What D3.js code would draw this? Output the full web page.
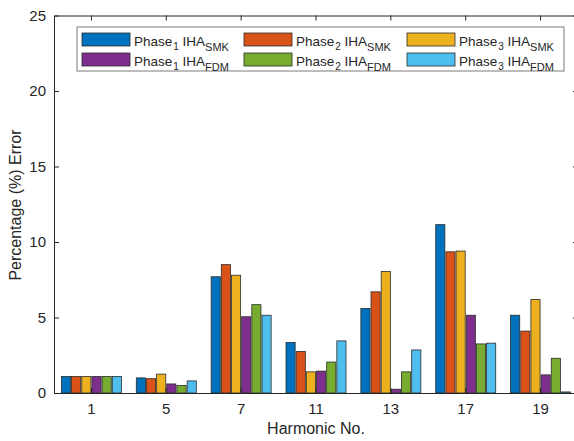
<!DOCTYPE html>
<html lang="en">
  <head>
    <meta charset="UTF-8" />
    <title>Percentage Error</title>
    <style>
        body { margin: 0; background: #fff; }
        svg text { font-family: "Liberation Sans", Arial, sans-serif; fill: #262626; }
        .axis line, .axis path { stroke: #262626; }
    </style>
    <script src="https://d3js.org/d3.v7.min.js"></script>
  </head>
  <body>
    <div id="chart"></div>
    <script>
        // harmonic orders on the x axis
        const harmonics = ["1", "5", "7", "11", "13", "17", "19"];
        // percentage error
        const phase1SMK = [1.1, 1.0, 7.7, 3.35, 5.6, 11.15, 5.15];
        const phase2SMK = [1.1, 0.95, 8.5, 2.75, 6.7, 9.35, 4.1];
        const phase3SMK = [1.1, 1.25, 7.8, 1.4, 8.05, 9.4, 6.2];
        const phase1FDM = [1.1, 0.6, 5.05, 1.45, 0.25, 5.15, 1.2];
        const phase2FDM = [1.1, 0.5, 5.85, 2.05, 1.4, 3.25, 2.3];
        const phase3FDM = [1.1, 0.8, 5.15, 3.45, 2.85, 3.3, 0.07];
        const yTicks = [0, 5, 10, 15, 20, 25];

        const series = [
            {phase: "1", method: "SMK", color: "#0072BD", values: phase1SMK},
            {phase: "2", method: "SMK", color: "#D95319", values: phase2SMK},
            {phase: "3", method: "SMK", color: "#EDB120", values: phase3SMK},
            {phase: "1", method: "FDM", color: "#7E2F8E", values: phase1FDM},
            {phase: "2", method: "FDM", color: "#77AC30", values: phase2FDM},
            {phase: "3", method: "FDM", color: "#4DBEEE", values: phase3FDM}
        ];

        const width = 574, height = 441;
        const plotL = 54, plotR = 578, plotT = 15.5, plotB = 393;

        const svg = d3.select("#chart").append("svg")
            .attr("width", width)
            .attr("height", height);

        const x = d3.scaleBand().domain(harmonics).range([plotL, plotR]);
        const xs = d3.scaleBand().domain(d3.range(series.length))
            .range([-30, 30]).paddingInner(0.1);
        const y = d3.scaleLinear().domain([0, 25]).range([plotB, plotT]);

        // bars
        const gBars = svg.append("g");
        series.forEach((s, i) => {
            gBars.selectAll(null)
                .data(s.values)
                .join("rect")
                .attr("x", (d, j) => x(harmonics[j]) + x.bandwidth() / 2 + xs(i))
                .attr("y", d => y(d))
                .attr("width", xs.bandwidth())
                .attr("height", d => plotB - y(d))
                .attr("fill", s.color)
                .attr("stroke", "#2b2b2b")
                .attr("stroke-width", 0.8);
        });

        // box with inward ticks
        const tick = 5;
        const axisB = d3.axisBottom(x).tickSizeInner(-tick).tickSizeOuter(0).tickPadding(10);
        const axisT = d3.axisTop(x).tickSizeInner(-tick).tickSizeOuter(0).tickFormat("");
        const axisL = d3.axisLeft(y).tickValues(yTicks).tickSizeInner(-tick).tickSizeOuter(0).tickPadding(8);
        const axisR = d3.axisRight(y).tickValues(yTicks).tickSizeInner(-tick).tickSizeOuter(0).tickFormat("");

        svg.append("g").attr("class", "axis").attr("transform", `translate(0,${plotB})`).call(axisB);
        svg.append("g").attr("class", "axis").attr("transform", `translate(0,${plotT})`).call(axisT);
        svg.append("g").attr("class", "axis").attr("transform", `translate(${plotL},0)`).call(axisL);
        svg.append("g").attr("class", "axis").attr("transform", `translate(${plotR},0)`).call(axisR);
        svg.selectAll(".axis text").attr("font-size", 15).attr("font-family", null);
        svg.selectAll(".axis .domain").attr("stroke-width", 1);

        // axis titles
        svg.append("text")
            .attr("x", 316).attr("y", 434)
            .attr("text-anchor", "middle")
            .attr("font-size", 16)
            .text("Harmonic No.");
        svg.append("text")
            .attr("transform", "translate(21,205) rotate(-90)")
            .attr("text-anchor", "middle")
            .attr("font-size", 16)
            .text("Percentage (%) Error");

        // legend
        const legend = svg.append("g");
        legend.append("rect")
            .attr("x", 77).attr("y", 27)
            .attr("width", 487).attr("height", 44)
            .attr("fill", "#fff")
            .attr("stroke", "#7a7a7a")
            .attr("stroke-width", 1);
        const colX = [82, 244, 407];
        const rowY = [33, 53];
        series.forEach((s, i) => {
            const cx = colX[i % 3], ry = rowY[Math.floor(i / 3)];
            legend.append("rect")
                .attr("x", cx).attr("y", ry)
                .attr("width", 48).attr("height", 13)
                .attr("fill", s.color)
                .attr("stroke", "#2b2b2b")
                .attr("stroke-width", 0.8);
            const t = legend.append("text")
                .attr("x", cx + 52).attr("y", ry + 13)
                .attr("font-size", 13.5);
            t.append("tspan").text("Phase");
            t.append("tspan").attr("dx", 1).attr("dy", 4).attr("font-size", 10).text(s.phase);
            t.append("tspan").attr("dy", -4).text(" IHA");
            t.append("tspan").attr("dy", 4.5).attr("font-size", 11).text(s.method);
        });
    </script>
  </body>
</html>
